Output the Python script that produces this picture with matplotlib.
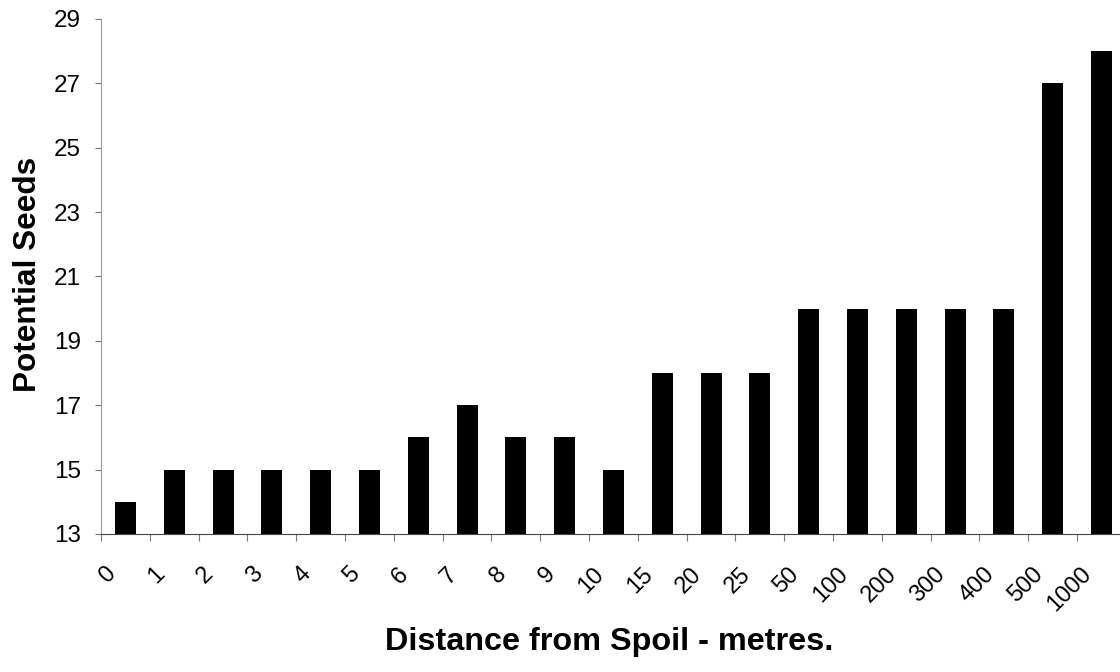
import matplotlib.pyplot as plt
import matplotlib.transforms as mtransforms

plt.rcParams['font.family'] = ['Liberation Sans', 'DejaVu Sans']

distances = ['0', '1', '2', '3', '4', '5', '6', '7', '8', '9', '10',
             '15', '20', '25', '50', '100', '200', '300', '400', '500', '1000']
seeds = [14, 15, 15, 15, 15, 15, 16, 17, 16, 16, 15,
         18, 18, 18, 20, 20, 20, 20, 20, 27, 28]

fig = plt.figure(figsize=(11.2, 6.72), dpi=100)
ax = fig.add_axes([0.0902, 0.2054, 0.915, 0.7664])

x = list(range(len(seeds)))
ax.bar(x, [s - 13 for s in seeds], bottom=13, width=0.43, color='black')

ax.set_xlim(-0.5, len(seeds) - 0.5)
ax.set_ylim(13, 29)
ax.set_yticks(range(13, 30, 2))
ax.tick_params(axis='y', labelsize=17.5, length=4.5, color='#777777', pad=10)

# ticks sit between categories, labels placed by hand under the bars
ax.set_xticks([i - 0.5 for i in range(len(seeds) + 1)])
ax.set_xticklabels([])
ax.tick_params(axis='x', length=5, color='#777777')

offset = mtransforms.ScaledTranslation(-13 / 100, -37 / 100, fig.dpi_scale_trans)
trans = ax.get_xaxis_transform() + offset
for i, lab in zip(x, distances):
    ax.text(i, 0, lab, transform=trans, rotation=45, ha='right', va='center',
            rotation_mode='anchor', fontsize=17, clip_on=False)

ax.spines['top'].set_visible(False)
ax.spines['right'].set_visible(False)
ax.spines['left'].set_color('#999999')
ax.spines['bottom'].set_color('#444444')

fig.text(0.025, 0.591, 'Potential Seeds', rotation=90, ha='center', va='center',
         fontsize=22.7, fontweight='bold')
fig.text(0.544, 0.045, 'Distance from Spoil - metres.', ha='center', va='center',
         fontsize=23.3, fontweight='bold')

fig.savefig('out.png', dpi=100)
